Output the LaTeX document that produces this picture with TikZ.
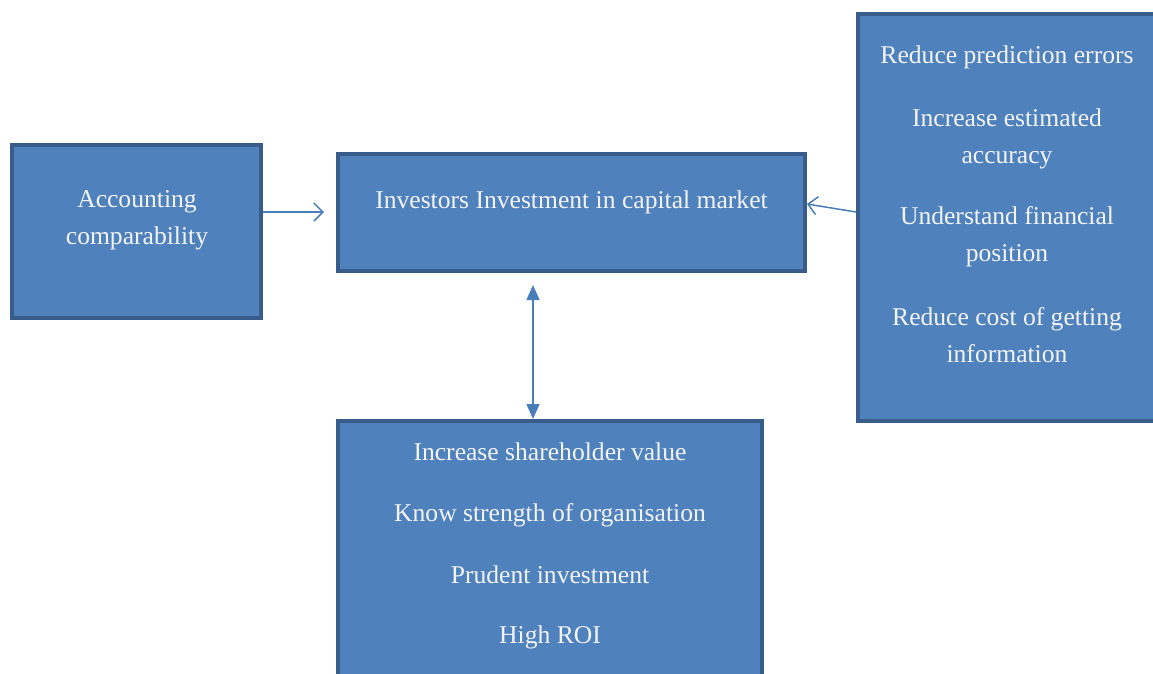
\documentclass[tikz,border=0pt]{standalone}
\usepackage{fontspec}
\setmainfont{Liberation Serif}
\usetikzlibrary{arrows.meta}
\definecolor{boxfill}{HTML}{4F81BD}
\definecolor{boxline}{HTML}{385D8A}
\definecolor{arrowc}{HTML}{4A7EBB}
\definecolor{txt}{HTML}{F4F4F4}
\tikzset{
  box/.style={draw=boxline, fill=boxfill, line width=4pt, inner sep=0pt},
  lbl/.style={text=txt, align=center, inner sep=0pt, font=\fontsize{25.6}{37}\selectfont},
  conn/.style={draw=arrowc, line width=1.5pt},
  openhead/.style={-{Straight Barb[length=9pt,width=18pt,line width=1.5pt]}},
  bothhead/.style={{Triangle[length=15pt,width=13pt]}-{Triangle[length=15pt,width=13pt]}}
}
\begin{document}
\begin{tikzpicture}[x=1pt,y=-1pt]
\useasboundingbox (0,0) rectangle (1153,673);
% boxes
\node[box, minimum width=249pt, minimum height=173pt] (lbox) at (136.5,231.5) {};
\node[box, minimum width=467pt, minimum height=117pt] (cbox) at (571.5,212.5) {};
\node[box, minimum width=298pt, minimum height=407pt] (rbox) at (1007,217.5) {};
\node[box, minimum width=424pt, minimum height=277pt] (bbox) at (550,559.5) {};
% texts
\node[lbl] (l1) at (137,220) {Accounting\\comparability};
\node[lbl] (c1) at (571.5,202) {Investors Investment in capital market};
\node[lbl] (r1) at (1007,57) {Reduce prediction errors};
\node[lbl] (r2) at (1007,139) {Increase estimated\\accuracy};
\node[lbl] (r3) at (1007,236.5) {Understand financial\\position};
\node[lbl] (r4) at (1007,335) {Reduce cost of getting\\information};
\node[lbl] (b1) at (550,452) {Increase shareholder value};
\node[lbl] (b2) at (550,515) {Know strength of organisation};
\node[lbl] (b3) at (550,575) {Prudent investment};
\node[lbl] (b4) at (550,637) {High ROI};
% connectors
\draw[conn, openhead, shorten >=12pt] ([yshift=19.5pt]lbox.east) -- ([yshift=0.5pt]cbox.west);
\draw[conn, openhead] ([yshift=5.5pt]rbox.west) -- ([yshift=8.5pt]cbox.east);
\draw[conn, bothhead, shorten <=12pt] ([xshift=-38.5pt]cbox.south) -- ([xshift=-17pt]bbox.north);
\end{tikzpicture}
\end{document}
